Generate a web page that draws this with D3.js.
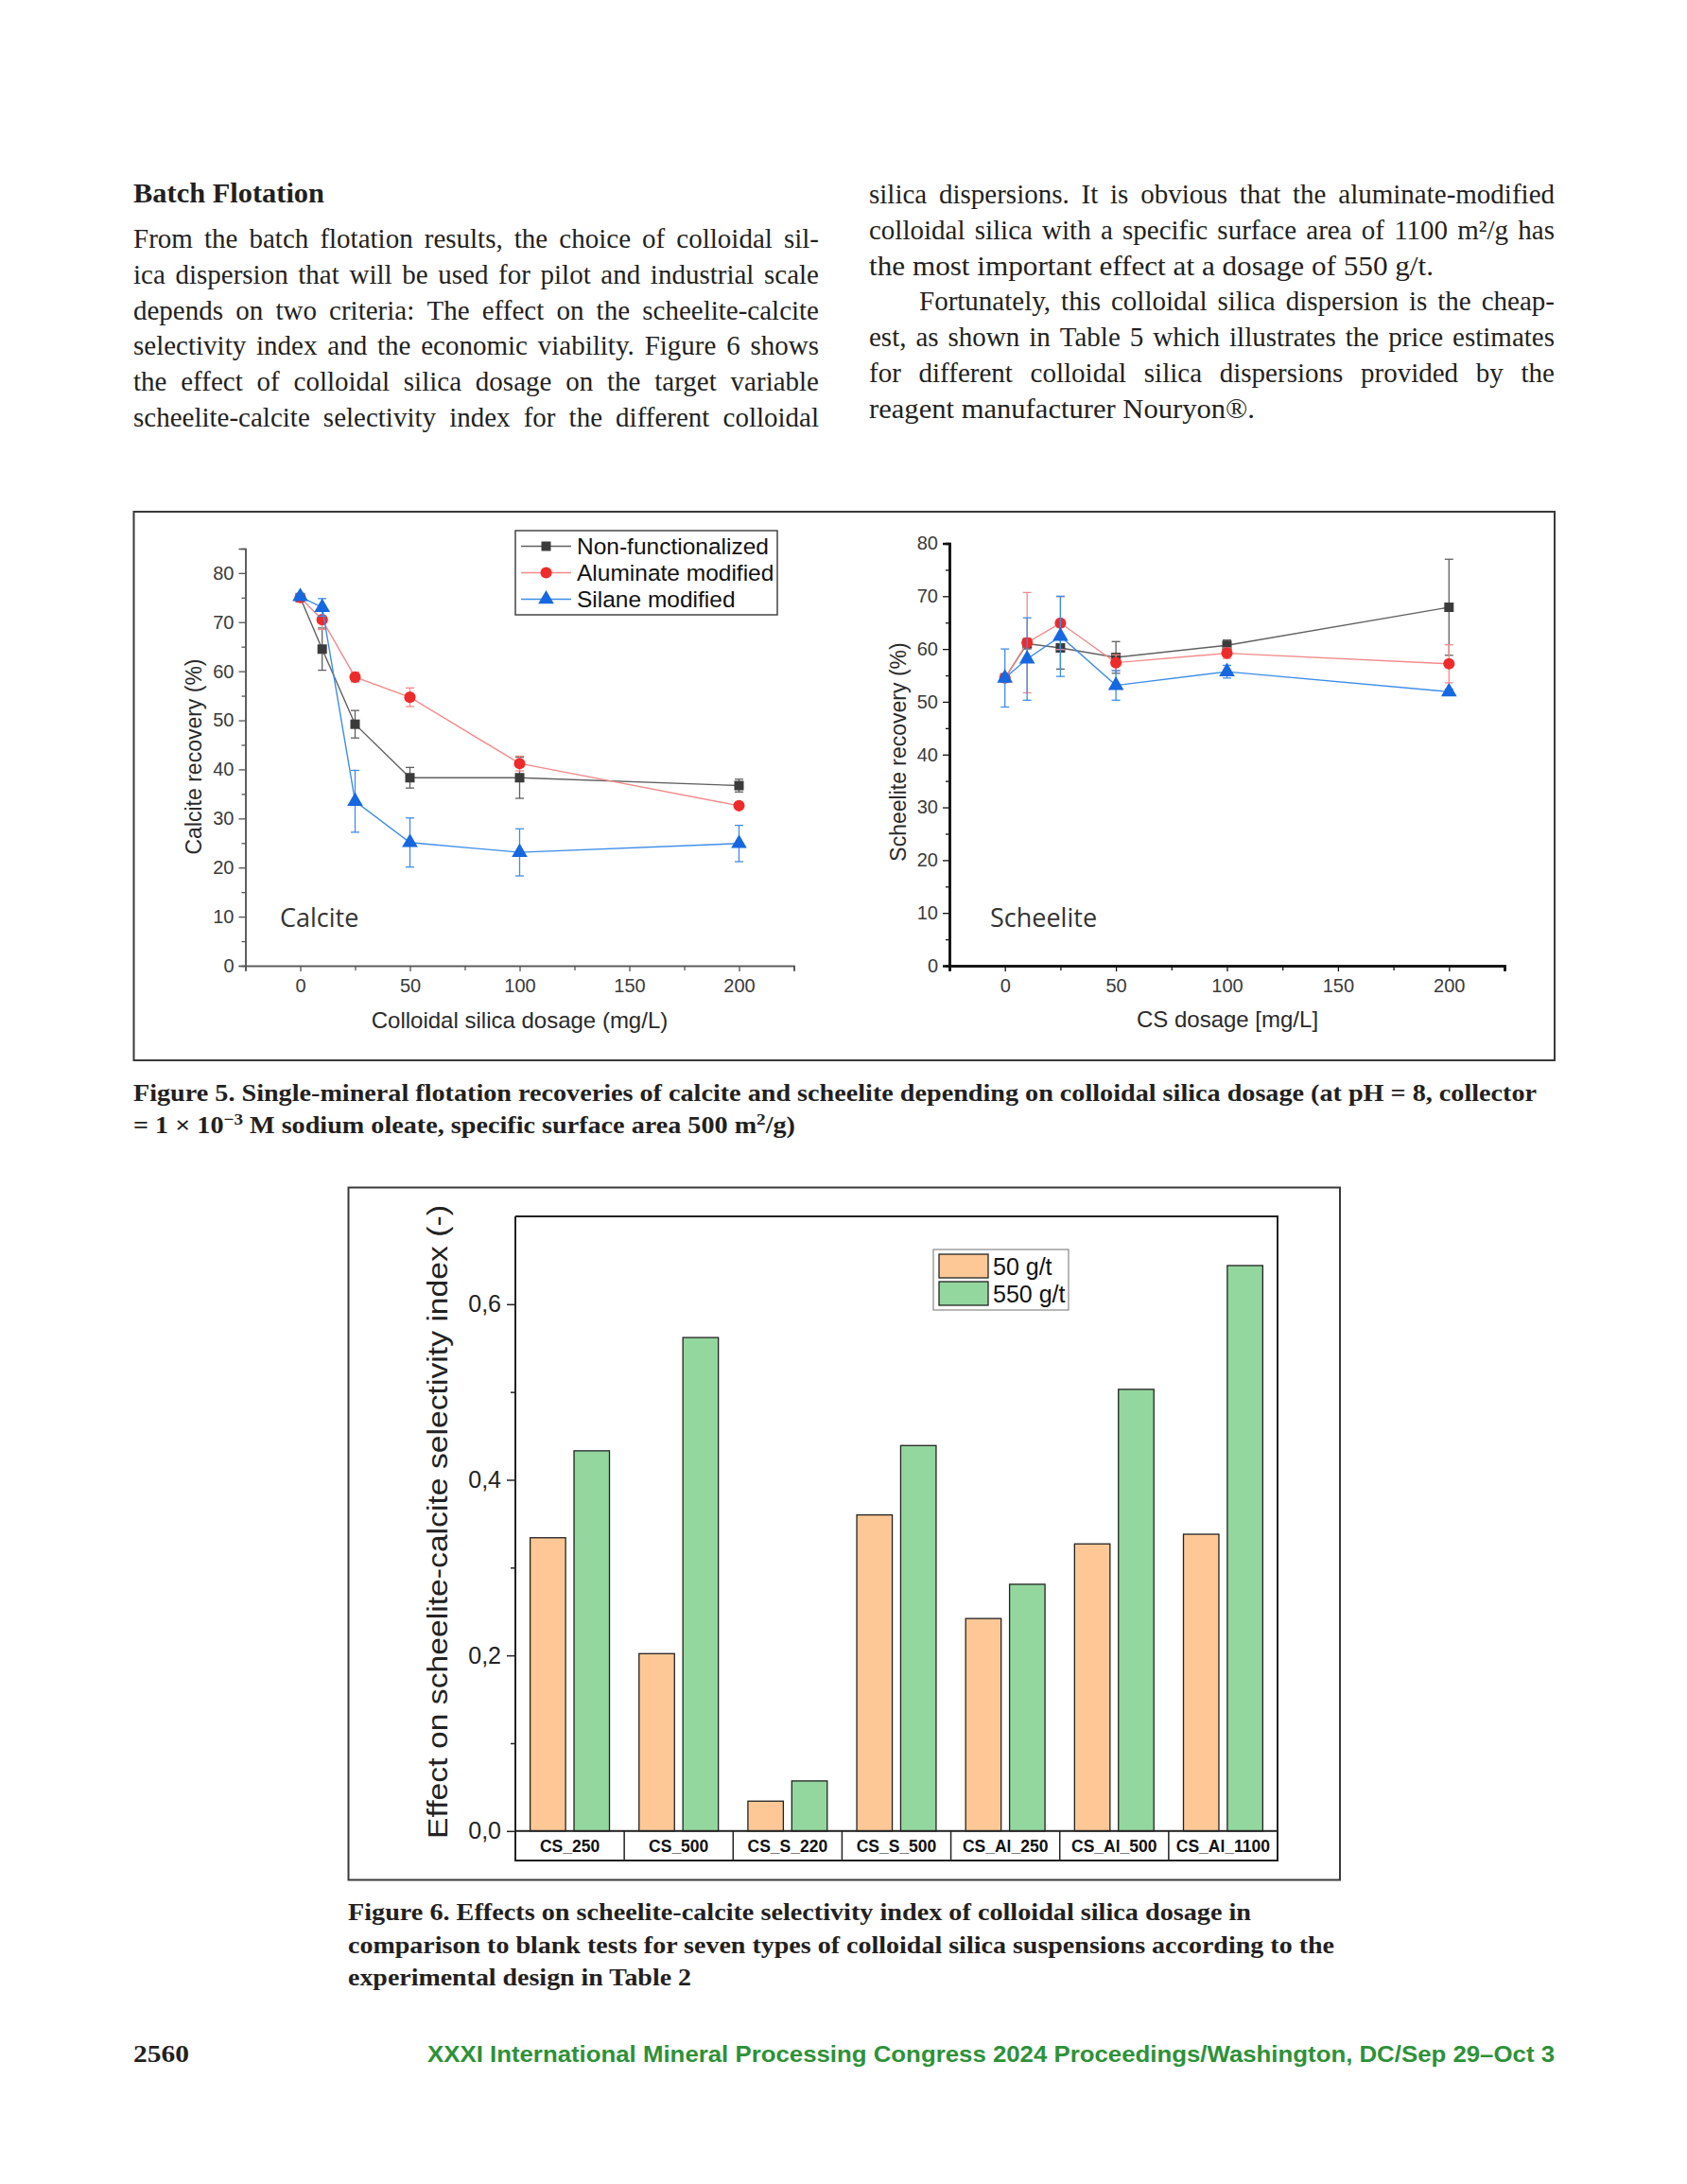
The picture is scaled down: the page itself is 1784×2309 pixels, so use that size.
<!DOCTYPE html>
<html><head><meta charset="utf-8">
<script src="https://cdn.jsdelivr.net/npm/d3@7"></script>
<style>body{margin:0;background:#fff}</style>
</head><body>
<svg id="page" width="1784" height="2309" xmlns="http://www.w3.org/2000/svg"></svg>
<script>
// ---------------- DATA ----------------
const dosages = [0, 10, 25, 50, 100, 200];
const seriesNames = ["Non-functionalized", "Aluminate modified", "Silane modified"];
const calciteNonFunc = [75.0, 64.5, 49.2, 38.3, 38.3, 36.7];
const calciteNonFuncErr = [0.5, 4.3, 2.8, 2.1, 4.2, 1.3];
const calciteAluminate = [75.0, 70.5, 58.8, 54.7, 41.2, 32.6];
const calciteAluminateErr = [0.5, 2.0, 1.0, 1.9, 1.5, 0.5];
const calciteSilane = [75.2, 73.0, 33.5, 25.1, 23.1, 24.9];
const calciteSilaneErr = [0.5, 1.8, 6.3, 5.0, 4.8, 3.7];
const scheeliteNonFunc = [54.5, 61.0, 60.2, 58.4, 60.7, 67.9];
const scheeliteNonFuncErr = [0.8, 1.0, 4.0, 3.0, 1.0, 9.1];
const scheeliteAluminate = [54.5, 61.2, 64.9, 57.4, 59.2, 57.2];
const scheeliteAluminateErr = [0.8, 9.5, 5.0, 1.5, 1.0, 3.6];
const scheeliteSilane = [54.5, 58.1, 62.4, 53.1, 55.7, 51.9];
const scheeliteSilaneErr = [5.5, 7.8, 7.6, 2.8, 1.2, 0.5];
const recoveryTicks = [0, 10, 20, 30, 40, 50, 60, 70, 80];
const dosageTicks = [0, 50, 100, 150, 200];

const csTypes = ["CS_250", "CS_500", "CS_S_220", "CS_S_500", "CS_Al_250", "CS_Al_500", "CS_Al_1100"];
const doseLevels = ["50 g/t", "550 g/t"];
const effect50 = [0.334, 0.202, 0.034, 0.360, 0.242, 0.327, 0.338];
const effect550 = [0.433, 0.562, 0.057, 0.439, 0.281, 0.503, 0.644];
const effectTicks = [0, 0.2, 0.4, 0.6];

const leftLines = [
 "From the batch flotation results, the choice of colloidal sil-",
 "ica dispersion that will be used for pilot and industrial scale",
 "depends on two criteria: The effect on the scheelite-calcite",
 "selectivity index and the economic viability. Figure 6 shows",
 "the effect of colloidal silica dosage on the target variable",
 "scheelite-calcite selectivity index for the different colloidal"
];
const rightLines = [
 "silica dispersions. It is obvious that the aluminate-modified",
 "colloidal silica with a specific surface area of 1100 m²/g has",
 "the most important effect at a dosage of 550 g/t.",
 "Fortunately, this colloidal silica dispersion is the cheap-",
 "est, as shown in Table 5 which illustrates the price estimates",
 "for different colloidal silica dispersions provided by the",
 "reagent manufacturer Nouryon®."
];

// ---------------- PAGE ----------------
const svg = d3.select("#page");
svg.append("rect").attr("width",1784).attr("height",2309).attr("fill","#fff");
const ink = "#231f20";
const serif = "'Liberation Serif', 'DejaVu Serif', serif";
const sans = "'Liberation Sans', Arial, sans-serif";

function placeLine(g, str, x0, x1, y, opts, justify) {
  const words = str.split(" ");
  const tmp = g.append("g");
  const widths = words.map(w => tmp.append("text").attr("font-family", opts.family).attr("font-size", opts.size)
      .text(w).node().getComputedTextLength());
  const spaceW = tmp.append("text").attr("font-family", opts.family).attr("font-size", opts.size)
      .text("a a").node().getComputedTextLength() - tmp.append("text").attr("font-family", opts.family)
      .attr("font-size", opts.size).text("aa").node().getComputedTextLength();
  tmp.remove();
  const total = d3.sum(widths);
  let gap;
  if (justify && words.length > 1) gap = (x1 - x0 - total) / (words.length - 1);
  else gap = spaceW;
  let sx = 1;
  if (!justify) { const nat = total + gap*(words.length-1); sx = (x1-x0)/nat; gap *= sx; }
  let x = x0;
  words.forEach((w, i) => {
    const t = g.append("text").attr("x", x).attr("y", y).attr("font-family", opts.family)
      .attr("font-size", opts.size).attr("fill", ink).text(w);
    if (!justify) t.attr("textLength", widths[i]*sx).attr("lengthAdjust","spacingAndGlyphs");
    x += widths[i]*sx + gap;
  });
}

const body = svg.append("g");
body.append("text").attr("x",141).attr("y",214).attr("font-family",serif).attr("font-size",29)
  .attr("font-weight","bold").attr("fill",ink).attr("textLength",202).attr("lengthAdjust","spacingAndGlyphs").text("Batch Flotation");
const bodyOpts = {family: serif, size: 29};
leftLines.forEach((l,i) => placeLine(body, l, 141, 866, 262 + i*37.8, bodyOpts, true));
const rightEnds = [1644, 1644, 1516, 1644, 1644, 1644, 1327];
rightLines.forEach((l,i) => placeLine(body, l, i===3 ? 972 : 919, rightEnds[i], 215 + i*37.8, bodyOpts, !(i===2 || i===6)));

// ---------------- FIGURE 5 ----------------
svg.append("rect").attr("x",141.5).attr("y",541).attr("width",1502.5).attr("height",580)
  .attr("fill","none").attr("stroke","#3a3a3a").attr("stroke-width",2);

const styles = [
  {line:"#606060", mark:"#3b3b3b", sym:d3.symbolSquare, size:100},
  {line:"#f28a8a", mark:"#ee2b2b", sym:d3.symbolCircle, size:115},
  {line:"#3d8de8", mark:"#1668e0", sym:d3.symbolTriangle, size:120}
];

function recoveryPlot(cfg) {
  const g = svg.append("g");
  const x = d3.scaleLinear().domain([-25,225]).range(cfg.xr);
  const y = d3.scaleLinear().domain(cfg.yd).range(cfg.yr);
  g.append("g").attr("transform",`translate(${cfg.xr[0]},0)`)
    .call(d3.axisLeft(y).tickValues(recoveryTicks).tickSize(7).tickPadding(5));
  g.append("g").attr("transform",`translate(${cfg.xr[0]},0)`)
    .call(d3.axisLeft(y).tickValues(d3.range(5, cfg.yd[1], 10)).tickSize(4).tickFormat(""));
  g.append("g").attr("transform",`translate(0,${cfg.yr[0]})`)
    .call(d3.axisBottom(x).tickValues(dosageTicks).tickSize(6).tickPadding(8));
  g.append("g").attr("transform",`translate(0,${cfg.yr[0]})`)
    .call(d3.axisBottom(x).tickValues([-25,25,75,125,175,225]).tickSize(5).tickFormat(""));
  g.selectAll(".domain").attr("stroke",cfg.axisColor).attr("stroke-width",cfg.axisW);
  g.selectAll(".tick line").attr("stroke",cfg.axisColor).attr("stroke-width",1.3);
  g.selectAll(".tick text").attr("font-family",sans).attr("font-size",20).attr("fill","#3a3a3a");
  g.append("text").attr("transform",`translate(${cfg.ytx},${cfg.yty}) rotate(-90)`)
    .attr("text-anchor","middle").attr("dy","0.35em").attr("font-family",sans).attr("font-size",23)
    .attr("fill","#2a2a2a").text(cfg.ytitle);
  g.append("text").attr("x",cfg.xtx).attr("y",cfg.xty).attr("text-anchor","middle").attr("dy","0.35em")
    .attr("font-family",sans).attr("font-size",24).attr("fill","#2a2a2a").text(cfg.xtitle);
  g.append("text").attr("x",cfg.lx).attr("y",980).attr("font-family","'Open Sans', 'Noto Sans', sans-serif")
    .attr("font-size",27).attr("fill","#333").text(cfg.label);
  cfg.series.forEach((s,k) => {
    const st = styles[k];
    const pts = dosages.map((d,i) => ({d, v:s.v[i], e:s.e[i]}));
    g.append("path").datum(pts).attr("fill","none").attr("stroke",st.line).attr("stroke-width",1.4)
      .attr("d", d3.line().x(p=>x(p.d)).y(p=>y(p.v)));
    const eb = g.append("g").attr("stroke",st.line).attr("stroke-width",1.3);
    pts.forEach(p => {
      eb.append("line").attr("x1",x(p.d)).attr("x2",x(p.d)).attr("y1",y(p.v-p.e)).attr("y2",y(p.v+p.e));
      [p.v-p.e, p.v+p.e].forEach(vv => eb.append("line").attr("x1",x(p.d)-4.5).attr("x2",x(p.d)+4.5)
        .attr("y1",y(vv)).attr("y2",y(vv)));
    });
    g.selectAll(null).data(pts).enter().append("path")
      .attr("transform",p=>`translate(${x(p.d)},${y(p.v)})`)
      .attr("d", d3.symbol().type(st.sym).size(st.size)).attr("fill",st.mark);
  });
}

recoveryPlot({
  xr:[259.5,839.5], yd:[0,85], yr:[1021,579.9], axisColor:"#555", axisW:1.5,
  ytitle:"Calcite recovery (%)", ytx:205, yty:800, xtitle:"Colloidal silica dosage (mg/L)", xtx:549.5, xty:1079,
  label:"Calcite", lx:296,
  series:[{v:calciteNonFunc,e:calciteNonFuncErr},{v:calciteAluminate,e:calciteAluminateErr},{v:calciteSilane,e:calciteSilaneErr}]
});
recoveryPlot({
  xr:[1004,1591], yd:[0,80], yr:[1021,574.5], axisColor:"#111", axisW:2.5,
  ytitle:"Scheelite recovery (%)", ytx:950, yty:795, xtitle:"CS dosage [mg/L]", xtx:1298, xty:1078,
  label:"Scheelite", lx:1047,
  series:[{v:scheeliteNonFunc,e:scheeliteNonFuncErr},{v:scheeliteAluminate,e:scheeliteAluminateErr},{v:scheeliteSilane,e:scheeliteSilaneErr}]
});

// legend fig 5
const lg = svg.append("g");
lg.append("rect").attr("x",545).attr("y",561).attr("width",277).attr("height",89)
  .attr("fill","#fff").attr("stroke","#444").attr("stroke-width",1.5);
seriesNames.forEach((n,k) => {
  const yy = 577.5 + k*28;
  lg.append("line").attr("x1",551).attr("x2",604).attr("y1",yy).attr("y2",yy).attr("stroke",styles[k].line).attr("stroke-width",1.5);
  lg.append("path").attr("transform",`translate(577.5,${yy})`).attr("d",d3.symbol().type(styles[k].sym).size(styles[k].size)).attr("fill",styles[k].mark);
  lg.append("text").attr("x",610).attr("y",yy).attr("dy","0.36em").attr("font-family",sans).attr("font-size",24.5)
    .attr("fill","#111").text(n);
});

// caption fig 5
const cap = svg.append("g").attr("font-family",serif).attr("font-weight","bold").attr("fill",ink).attr("font-size",25);
cap.append("text").attr("x",141).attr("y",1164).attr("textLength",1484).attr("lengthAdjust","spacingAndGlyphs")
  .text("Figure 5.  Single-mineral flotation recoveries of calcite and scheelite depending on colloidal silica dosage (at pH = 8, collector");
const c2 = cap.append("text").attr("x",141).attr("y",1198).attr("textLength",700).attr("lengthAdjust","spacingAndGlyphs");
c2.append("tspan").text("= 1 × 10");
c2.append("tspan").attr("dy",-9).attr("font-size",17).text("−3");
c2.append("tspan").attr("dy",9).text(" M sodium oleate, specific surface area 500 m");
c2.append("tspan").attr("dy",-9).attr("font-size",17).text("2");
c2.append("tspan").attr("dy",9).text("/g)");

// ---------------- FIGURE 6 ----------------
svg.append("rect").attr("x",368.5).attr("y",1255.5).attr("width",1048.5).attr("height",732)
  .attr("fill","none").attr("stroke","#3a3a3a").attr("stroke-width",2);
const f6 = svg.append("g");
const X6 = [545, 1351], Y0 = 1935.8, Ytop = 1286, Ybot = 1967;
const xb = d3.scaleBand().domain(csTypes).range(X6).paddingInner(0).paddingOuter(0);
const xs = d3.scaleBand().domain(doseLevels).range([0, xb.bandwidth()]).paddingInner(0.192).paddingOuter(0.337);
const y6 = d3.scaleLinear().domain([0,0.7]).range([Y0, Ytop]);
const barColors = {"50 g/t":"#fdc895", "550 g/t":"#93d79e"};
const barData = csTypes.map((c,i) => ({c, vals:[{k:"50 g/t", v:effect50[i]},{k:"550 g/t", v:effect550[i]}]}));
const grp = f6.selectAll(null).data(barData).enter().append("g").attr("transform",d=>`translate(${xb(d.c)},0)`);
grp.selectAll("rect").data(d=>d.vals).enter().append("rect")
  .attr("x",d=>xs(d.k)).attr("width",xs.bandwidth()).attr("y",d=>y6(d.v)).attr("height",d=>Y0-y6(d.v))
  .attr("fill",d=>barColors[d.k]).attr("stroke","#222").attr("stroke-width",1.3);
f6.append("path").attr("d",`M${X6[0]},${Ytop}H${X6[1]}V${Y0}`).attr("fill","none").attr("stroke","#222").attr("stroke-width",2);
f6.append("rect").attr("x",X6[0]).attr("y",Y0).attr("width",X6[1]-X6[0]).attr("height",Ybot-Y0)
  .attr("fill","none").attr("stroke","#222").attr("stroke-width",2);
csTypes.forEach((c,i) => {
  if (i>0) f6.append("line").attr("x1",xb(c)).attr("x2",xb(c)).attr("y1",Y0).attr("y2",Ybot).attr("stroke","#222").attr("stroke-width",1.5);
  f6.append("text").attr("x",xb(c)+xb.bandwidth()/2).attr("y",(Y0+Ybot)/2).attr("dy","0.36em")
    .attr("text-anchor","middle").attr("font-family",sans).attr("font-weight","bold").attr("font-size",17.5)
    .attr("fill","#111").text(c);
});
f6.append("g").attr("transform",`translate(${X6[0]},0)`)
  .call(d3.axisLeft(y6).tickValues(effectTicks).tickSize(9).tickPadding(6).tickFormat(v=>d3.format(".1f")(v).replace(".",",")));
f6.append("g").attr("transform",`translate(${X6[0]},0)`)
  .call(d3.axisLeft(y6).tickValues([0.1,0.3,0.5]).tickSize(5).tickFormat(""));
f6.selectAll(".domain").remove();
f6.append("line").attr("x1",X6[0]).attr("x2",X6[0]).attr("y1",Ytop).attr("y2",Ybot).attr("stroke","#222").attr("stroke-width",2);
f6.selectAll(".tick line").attr("stroke","#222").attr("stroke-width",1.5);
f6.selectAll(".tick text").attr("font-family",sans).attr("font-size",25).attr("fill","#222");
f6.append("text").attr("transform","translate(463,1609) rotate(-90)").attr("text-anchor","middle").attr("dy","0.35em")
  .attr("font-family",sans).attr("font-size",29).attr("fill","#222").attr("textLength",670).attr("lengthAdjust","spacingAndGlyphs")
  .text("Effect on scheelite-calcite selectivity index (-)");
f6.append("rect").attr("x",987).attr("y",1321).attr("width",143).attr("height",64).attr("fill","#fff").attr("stroke","#888").attr("stroke-width",1.2);
doseLevels.forEach((k,i) => {
  const yy = 1326 + i*29;
  f6.append("rect").attr("x",993).attr("y",yy).attr("width",52).attr("height",25).attr("fill",barColors[k]).attr("stroke","#222").attr("stroke-width",1.3);
  f6.append("text").attr("x",1050).attr("y",yy+12.5).attr("dy","0.36em").attr("font-family",sans).attr("font-size",25)
    .attr("fill","#111").text(k);
});

// caption fig 6
const cap6 = svg.append("g").attr("font-family",serif).attr("font-weight","bold").attr("fill",ink).attr("font-size",25);
[["Figure 6.  Effects on scheelite-calcite selectivity index of colloidal silica dosage in", 955],
 ["comparison to blank tests for seven types of colloidal silica suspensions according to the", 1043],
 ["experimental design in Table 2", 363]].forEach((l,i) => {
  cap6.append("text").attr("x",368).attr("y",2030 + i*34.5).attr("textLength",l[1]).attr("lengthAdjust","spacingAndGlyphs").text(l[0]);
});

// footer
svg.append("text").attr("x",141).attr("y",2180).attr("font-family",serif).attr("font-weight","bold").attr("font-size",26)
  .attr("fill",ink).attr("textLength",59).attr("lengthAdjust","spacingAndGlyphs").text("2560");
svg.append("text").attr("x",1644).attr("y",2180).attr("text-anchor","end").attr("font-family",sans).attr("font-weight","bold")
  .attr("font-size",24).attr("fill","#2e9138").attr("textLength",1192).attr("lengthAdjust","spacingAndGlyphs")
  .text("XXXI International Mineral Processing Congress 2024 Proceedings/Washington, DC/Sep 29–Oct 3");
</script>
</body></html>
